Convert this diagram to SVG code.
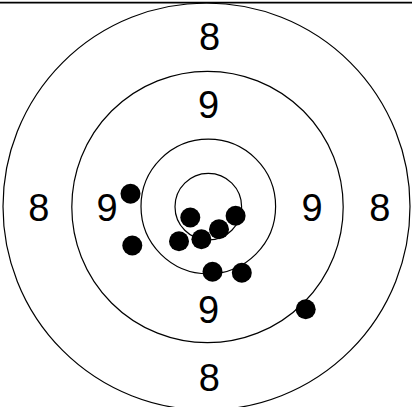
<svg xmlns="http://www.w3.org/2000/svg" width="412" height="407" viewBox="0 0 412 407">
<style>
.ring{fill:none;stroke:#000;stroke-width:1.2}
.n{font-family:"Liberation Sans",Arial,sans-serif;font-size:38px;text-anchor:middle;fill:#000}
.hit{fill:#000}
</style>
<rect width="412" height="407" fill="#fff"/>
<line x1="0" y1="2.6" x2="412" y2="2.6" stroke="#000" stroke-width="1.6"/>
<g id="rings">
<circle class="ring" cx="206.5" cy="206.5" r="203.5"/>
<circle class="ring" cx="207.5" cy="207" r="135.7"/>
<circle class="ring" cx="208.3" cy="206.5" r="67.3"/>
<circle class="ring" cx="208.3" cy="206.7" r="33.3"/>
</g>
<g id="labels">
<text class="n" x="209.5" y="50">8</text>
<text class="n" x="208.5" y="117.5">9</text>
<text class="n" x="38.8" y="221">8</text>
<text class="n" x="107" y="220.5">9</text>
<text class="n" x="312" y="221">9</text>
<text class="n" x="379.7" y="221">8</text>
<text class="n" x="208.5" y="323">9</text>
<text class="n" x="209.3" y="391">8</text>
</g>
<g id="hits">
<circle class="hit" cx="130.5" cy="193.8" r="10"/>
<circle class="hit" cx="132.3" cy="245.5" r="10"/>
<circle class="hit" cx="190.3" cy="217.5" r="10"/>
<circle class="hit" cx="235.6" cy="215.8" r="10"/>
<circle class="hit" cx="219" cy="229.2" r="10"/>
<circle class="hit" cx="201.4" cy="239.2" r="10"/>
<circle class="hit" cx="179" cy="241.3" r="10"/>
<circle class="hit" cx="212.5" cy="271.8" r="10"/>
<circle class="hit" cx="241.8" cy="272.8" r="10"/>
<circle class="hit" cx="305.7" cy="309.3" r="10"/>
</g>
</svg>
